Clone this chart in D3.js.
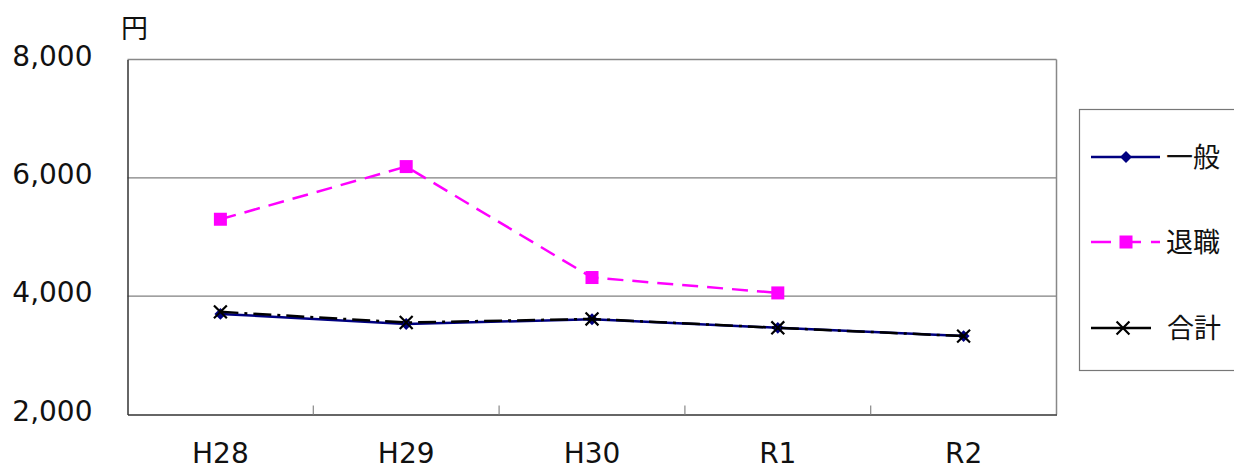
<!DOCTYPE html>
<html><head><meta charset="utf-8">
<script src="https://cdn.jsdelivr.net/npm/d3@7"></script>
<style>body{margin:0;background:#fff}svg{display:block}</style>
</head><body>
<svg id="c" width="1234" height="470"></svg>
<script>
const categories = ["H28","H29","H30","R1","R2"];
const ippan = [3700, 3530, 3610, 3465, 3325];
const taishoku = [5300, 6190, 4315, 4055, null];
const goukei = [3735, 3555, 3615, 3465, 3325];
const yTicks = [2000, 4000, 6000, 8000];
const seriesNames = ["一般","退職","合計"];

const svg = d3.select("#c");
const font = "'DejaVu Sans', Verdana, sans-serif";
const L = 127.5, R = 1056.5, T = 59.5, B = 414.5;
const x = d3.scaleBand().domain(categories).range([L, R]);
const y = d3.scaleLinear().domain([2000, 8000]).range([B, T]);

// grid
svg.append("g").selectAll("line").data(yTicks.filter(d => d > 2000 && d < 8000)).join("line")
  .attr("x1", L).attr("x2", R).attr("y1", d => y(d)).attr("y2", d => y(d))
  .attr("stroke", "#808080").attr("stroke-width", 1.2);
// frame
svg.append("line").attr("x1", L).attr("x2", R).attr("y1", T).attr("y2", T).attr("stroke", "#888").attr("stroke-width", 1.5);
svg.append("line").attr("x1", R).attr("x2", R).attr("y1", T).attr("y2", B).attr("stroke", "#888").attr("stroke-width", 1.5);
// y axis
const yAxis = d3.axisLeft(y).tickValues(yTicks).tickFormat(d3.format(",")).tickSize(0).tickPadding(35);
const gy = svg.append("g").attr("transform", `translate(${L},0)`).call(yAxis);
gy.select(".domain").attr("stroke", "#333").attr("stroke-width", 1.5);
gy.selectAll("text").attr("font-family", font).attr("font-size", 28).attr("fill", "#111").attr("dy", "0.2em");
// x axis
const xAxis = d3.axisBottom(x).tickSize(0).tickPadding(29);
const gx = svg.append("g").attr("transform", `translate(0,${B})`).call(xAxis);
gx.select(".domain").attr("stroke", "#333").attr("stroke-width", 1.5);
gx.selectAll("text").attr("font-family", font).attr("font-size", 28).attr("fill", "#111");
// category boundary ticks (inward)
svg.append("g").selectAll("line").data(categories.slice(1)).join("line")
  .attr("x1", d => x(d)).attr("x2", d => x(d)).attr("y1", B).attr("y2", B - 9)
  .attr("stroke", "#888").attr("stroke-width", 1.2);
// unit label
svg.append("text").attr("x", 121).attr("y", 38).attr("font-family", "'Noto Sans CJK JP', sans-serif").attr("font-size", 27).attr("fill", "#111").text("円");

const cx = d => x(d) + x.bandwidth() / 2;
function lineFor(vals) {
  return d3.line().defined(d => d.v != null).x(d => cx(d.c)).y(d => y(d.v))(categories.map((c, i) => ({c, v: vals[i]})));
}
const pts = vals => categories.map((c, i) => ({c, v: vals[i]})).filter(d => d.v != null);

// 一般
svg.append("path").attr("d", lineFor(ippan)).attr("fill", "none").attr("stroke", "#000080").attr("stroke-width", 2.5);
svg.append("g").selectAll("path").data(pts(ippan)).join("path")
  .attr("d", d3.symbol(d3.symbolDiamond2, 90)()).attr("transform", d => `translate(${cx(d.c)},${y(d.v)})`).attr("fill", "#000080");
// 合計
svg.append("path").attr("d", lineFor(goukei)).attr("fill", "none").attr("stroke", "#000").attr("stroke-width", 2.5).attr("stroke-dasharray", "18,6,3,6");
svg.append("g").selectAll("path").data(pts(goukei)).join("path")
  .attr("d", d3.symbol(d3.symbolX, 110)()).attr("transform", d => `translate(${cx(d.c)},${y(d.v)})`).attr("fill", "none").attr("stroke", "#000").attr("stroke-width", 2.2);
// 退職
svg.append("path").attr("d", lineFor(taishoku)).attr("fill", "none").attr("stroke", "#ff00ff").attr("stroke-width", 2.5).attr("stroke-dasharray", "16,9");
svg.append("g").selectAll("rect").data(pts(taishoku)).join("rect")
  .attr("x", d => cx(d.c) - 6.5).attr("y", d => y(d.v) - 6.5).attr("width", 13).attr("height", 13).attr("fill", "#ff00ff");

// legend
const lg = svg.append("g");
lg.append("rect").attr("x", 1079.5).attr("y", 109.5).attr("width", 160).attr("height", 261).attr("fill", "#fff").attr("stroke", "#777").attr("stroke-width", 1.2);
const ly = [157, 242, 328];
const lx1 = 1091, lx2 = 1160, lm = 1126;
// 一般
lg.append("line").attr("x1", lx1).attr("x2", lx2).attr("y1", ly[0]).attr("y2", ly[0]).attr("stroke", "#000080").attr("stroke-width", 2.5);
lg.append("path").attr("d", d3.symbol(d3.symbolDiamond2, 90)()).attr("transform", `translate(${lm},${ly[0]})`).attr("fill", "#000080");
// 退職
lg.append("line").attr("x1", lx1).attr("x2", lx2).attr("y1", ly[1]).attr("y2", ly[1]).attr("stroke", "#ff00ff").attr("stroke-width", 2.5).attr("stroke-dasharray", "20,10");
lg.append("rect").attr("x", lm - 6.5).attr("y", ly[1] - 6.5).attr("width", 13).attr("height", 13).attr("fill", "#ff00ff");
// 合計
lg.append("line").attr("x1", lx1).attr("x2", 1151).attr("y1", ly[2]).attr("y2", ly[2]).attr("stroke", "#000").attr("stroke-width", 2.5);
lg.append("path").attr("d", d3.symbol(d3.symbolX, 110)()).attr("transform", `translate(${1126 - 3},${ly[2]})`).attr("fill", "none").attr("stroke", "#000").attr("stroke-width", 2.2);
lg.selectAll("text.l").data(seriesNames).join("text").attr("class", "l")
  .attr("x", (d, i) => i === 2 ? 1167 : 1166).attr("y", (d, i) => ly[i] + 10)
  .attr("font-family", "'Noto Sans CJK JP', sans-serif").attr("font-size", 27).attr("fill", "#111").text(d => d);
</script>
</body></html>
